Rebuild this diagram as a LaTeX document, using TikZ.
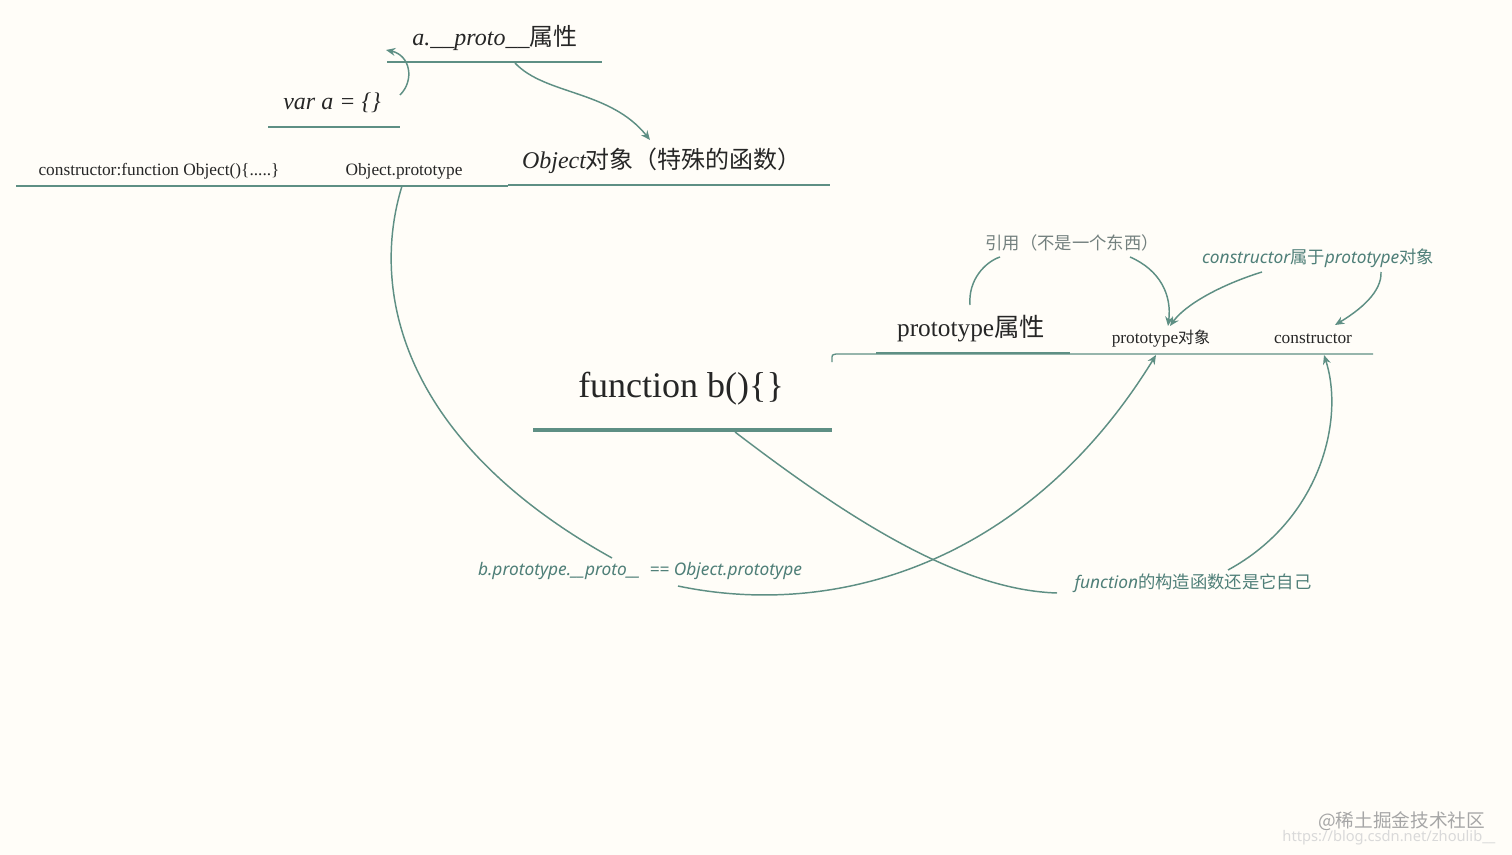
\documentclass[tikz,border=0pt]{standalone}
\usepackage{fontspec}
\usetikzlibrary{arrows.meta}
\setmainfont{Liberation Serif}
\newfontfamily\cjk{Noto Sans CJK SC}
\newfontfamily\sans{Noto Sans}
\begin{document}
\begin{tikzpicture}[x=0.75pt,y=-0.75pt,
  tl/.style={draw=teal1,line width=2pt},
  thin/.style={draw=teal1,line width=1pt},
  con/.style={draw=teal1,line width=1.1pt},
  arr/.style={con,-{Stealth[length=7pt,width=6pt]}},
  lab/.style={text=teal2,font=\sans\itshape\fontsize{13}{15}\selectfont,inner sep=1pt},
  txt/.style={text=black!85,inner sep=0pt}]
\definecolor{teal1}{HTML}{5E8F84}
\definecolor{teal2}{HTML}{4F7F78}
\definecolor{bg}{HTML}{FFFDF8}
\fill[bg] (0,0) rectangle (1512,855);
\useasboundingbox (0,0) rectangle (1512,855);
% top-left
\node[txt,font=\itshape\fontsize{18}{20}\selectfont] (ap) at (495,38) {a.\_\_proto\_\_{\cjk\itshape 属性}};
\draw[tl] (387,62) coordinate (apL) -- (602,62) coordinate (apR);
\node[txt,font=\itshape\fontsize{18}{20}\selectfont] (va) at (332,103) {var a = \{\}};
\draw[tl] (268,127) -- (400,127);
\coordinate (va1) at (400,95);
\coordinate (ap1) at (386,50);
\draw[arr] (va1) .. controls (415,80) and (410,55) .. (ap1);
\coordinate (ap2) at (515,63);
\coordinate (ob1) at (650,140);
\draw[arr] (ap2) .. controls (545,95) and (610,90) .. (ob1);
\node[txt,font=\itshape\fontsize{18}{20}\selectfont] (obj) at (662,161) {Object{\cjk\itshape 对象（特殊的函数）}};
\draw[tl] (508,185) -- (830,185);
\draw[thin] (16,186) -- (508,186);
\node[txt,font=\fontsize{13}{15}\selectfont] (cf) at (159,171) {constructor:function Object()\{.....\}};
\node[txt,font=\fontsize{13}{15}\selectfont] (op) at (404,171) {Object.prototype};
% function b
\node[txt,font=\fontsize{27}{30}\selectfont] (fb) at (681,389) {function b()\{\}};
\draw[tl,line width=2.4pt] (533,430) -- (832,430);
\draw[thin] (832,362) -- (832,357) .. controls (832,355) .. (836,354) -- (1373,354);
\draw[tl] (876,353) -- (1070,353);
\node[txt,font=\fontsize{19}{21}\selectfont] (pa) at (971,329) {prototype{\cjk 属性}};
\node[txt,font=\fontsize{13}{15}\selectfont] (po) at (1161,339) {prototype{\cjk\fontsize{12}{14}\selectfont 对象}};
\node[txt,font=\fontsize{13}{15}\selectfont] (co) at (1313,339) {constructor};
\node[lab,text=gray!75!teal2,font=\cjk\itshape\fontsize{13}{15}\selectfont] (ref) at (1072,243) {引用（不是一个东西）};
\draw[con] (970,305) .. controls (968,280) and (985,262) .. (1000,257);
\draw[arr] (1130,257) .. controls (1160,270) and (1172,295) .. (1168,326);
\node[lab] (cb) at (1318,258) {constructor{\cjk\itshape 属于}prototype{\cjk\itshape 对象}};
\draw[arr] (1262,272) .. controls (1220,285) and (1185,305) .. (1170,326);
\draw[arr] (1381,272) .. controls (1382,292) and (1360,310) .. (1335,325);
% big curves
\coordinate (op1) at (402,186);
\coordinate (pb1) at (612,558);
\draw[con] (op1) .. controls (370,290) and (400,440) .. (pb1);
\coordinate (pb2) at (678,586);
\coordinate (po1) at (1156,355);
\draw[arr] (pb2) .. controls (840,620) and (1030,560) .. (po1);
\node[lab] (pbl) at (640,571) {b.prototype.\_\_proto\_\_ \ == Object.prototype};
\coordinate (fb1) at (735,432);
\coordinate (fc1) at (1057,593);
\draw[con] (fb1) .. controls (850,520) and (960,590) .. (fc1);
\node[lab] (fcl) at (1193,583) {function{\cjk\itshape 的构造函数还是它自己}};
\coordinate (fc2) at (1228,570);
\coordinate (co1) at (1324,355);
\draw[arr] (fc2) .. controls (1320,520) and (1345,420) .. (co1);
% watermark
\node[text=gray!70,font=\cjk\fontsize{14}{16}\selectfont,anchor=east] (wm) at (1490,821) {@稀土掘金技术社区};
\node[text=gray!30,font=\sans\fontsize{11}{13}\selectfont,anchor=east] (wm2) at (1500,838) {https://blog.csdn.net/zhoulib\_\_};
\end{tikzpicture}
\end{document}
